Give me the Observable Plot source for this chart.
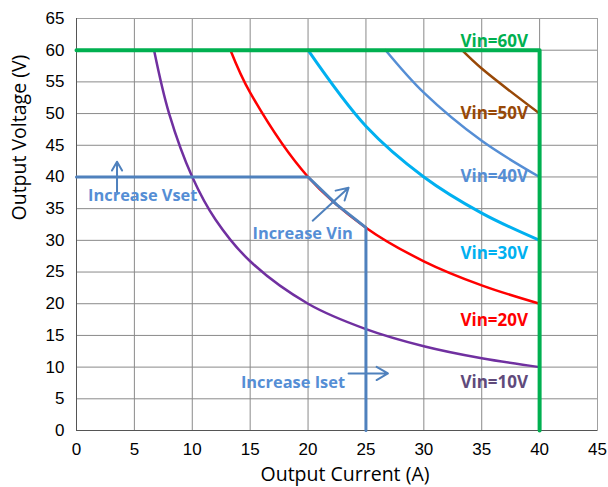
<!DOCTYPE html>
<html>
<head>
<meta charset="utf-8">
<script src="https://cdn.jsdelivr.net/npm/d3@7"></script>
<script src="https://cdn.jsdelivr.net/npm/@observablehq/plot@0.6"></script>
<style>
body { margin: 0; background: #fff; }
#chart svg { display: block; }
</style>
</head>
<body>
<div id="chart"></div>
<script>
// Tick values
const xTicks = [0, 5, 10, 15, 20, 25, 30, 35, 40, 45];
const yTicks = [0, 5, 10, 15, 20, 25, 30, 35, 40, 45, 50, 55, 60, 65];

// Curves: [current A, voltage V]
const vin10 = [[6.7, 60], [8, 50], [10, 40], [12, 33.3], [15, 26.7], [20, 20], [25, 16], [30, 13.3], [35, 11.4], [40, 10]];
const vin20 = [[13.3, 60], [15, 53.3], [20, 40], [25, 32], [30, 26.7], [35, 22.9], [40, 20]];
const vin30 = [[20, 60], [25, 48], [30, 40], [35, 34.3], [40, 30]];
const vin40 = [[26.7, 60], [30, 53.3], [35, 45.7], [40, 40]];
const vin50 = [[33.3, 60], [35, 57.1], [40, 50]];
const vin60 = [[0, 60], [40, 60], [40, 0]];
const setting = [[0, 40], [20, 40], [22.5, 35.6], [25, 32], [25, 0]];

// Curve labels
const labels = [
  {text: "Vin=60V", x: 39, y: 61.3, color: "#00B050"},
  {text: "Vin=50V", x: 39, y: 50.0, color: "#984807"},
  {text: "Vin=40V", x: 39, y: 40.1, color: "#558ED5"},
  {text: "Vin=30V", x: 39, y: 27.9, color: "#00B0F0"},
  {text: "Vin=20V", x: 39, y: 17.4, color: "#FF0000"},
  {text: "Vin=10V", x: 39, y: 7.6, color: "#604A7B"}
];

// Annotations
const notes = [
  {text: "Increase Vset", x: 1.0, y: 37.1},
  {text: "Increase Vin", x: 15.2, y: 31.1},
  {text: "Increase Iset", x: 14.2, y: 7.6}
];
const arrows = [
  {x1: 3.5, y1: 37.6, x2: 3.5, y2: 42.4},
  {x1: 20.4, y1: 33.1, x2: 23.5, y2: 38.3},
  {x1: 23.5, y1: 9.0, x2: 26.9, y2: 9.0}
];

const line = (data, stroke, w) => Plot.line(data, {x: d => d[0], y: d => d[1], stroke, strokeWidth: w, curve: "catmull-rom"});
const labelFont = "'Open Sans', Lato, sans-serif";

const chart = Plot.plot({
  width: 608,
  height: 487,
  marginLeft: 76,
  marginRight: 11,
  marginTop: 18,
  marginBottom: 57,
  style: {fontFamily: "Liberation Sans, Arial, sans-serif", fontSize: "17px", color: "#000", background: "#fff"},
  x: {domain: [0, 45], ticks: xTicks, label: null},
  y: {domain: [0, 65], ticks: yTicks, label: null},
  marks: [
    Plot.gridX(xTicks, {stroke: "#8a8a8a", strokeOpacity: 1}),
    Plot.gridY(yTicks, {stroke: "#8a8a8a", strokeOpacity: 1}),
    Plot.frame({stroke: "#a0a0a0"}),
    Plot.ruleX([0], {stroke: "#555"}),
    Plot.ruleY([0], {stroke: "#555"}),
    Plot.axisX({ticks: xTicks, tickSize: 0, tickPadding: 12, fontSize: 17, label: null}),
    Plot.axisY({ticks: yTicks, tickSize: 0, tickPadding: 12, fontSize: 17, label: null}),
    line(vin10, "#7030A0", 2.5),
    line(vin20, "#FF0000", 2.5),
    line(vin30, "#00B0F0", 3),
    line(vin40, "#558ED5", 2.5),
    line(vin50, "#984807", 2.5),
    Plot.line(setting, {x: d => d[0], y: d => d[1], stroke: "#4F81BD", strokeWidth: 3, curve: "linear"}),
    Plot.line(vin60, {x: d => d[0], y: d => d[1], stroke: "#00B050", strokeWidth: 4}),
    Plot.arrow(arrows, {x1: "x1", y1: "y1", x2: "x2", y2: "y2", stroke: "#4F81BD", strokeWidth: 2, headLength: 10}),
    Plot.text(labels, {x: "x", y: "y", text: "text", fill: d => d.color, textAnchor: "end", fontFamily: labelFont, fontWeight: "bold", fontSize: 17}),
    Plot.text(notes, {x: "x", y: "y", text: "text", fill: "#558ED5", textAnchor: "start", fontFamily: labelFont, fontWeight: "bold", fontSize: 16.4}),
    Plot.text(["Output Current (A)"], {frameAnchor: "bottom", lineAnchor: "middle", dx: 8, dy: 44, fontSize: 19.5, fontFamily: labelFont, fill: "#000"}),
    Plot.text(["Output Voltage (V)"], {frameAnchor: "left", dx: -57, dy: -4, rotate: -90, fontSize: 19.5, fontFamily: labelFont, fill: "#000"})
  ]
});
document.getElementById("chart").appendChild(chart);
</script>
</body>
</html>
